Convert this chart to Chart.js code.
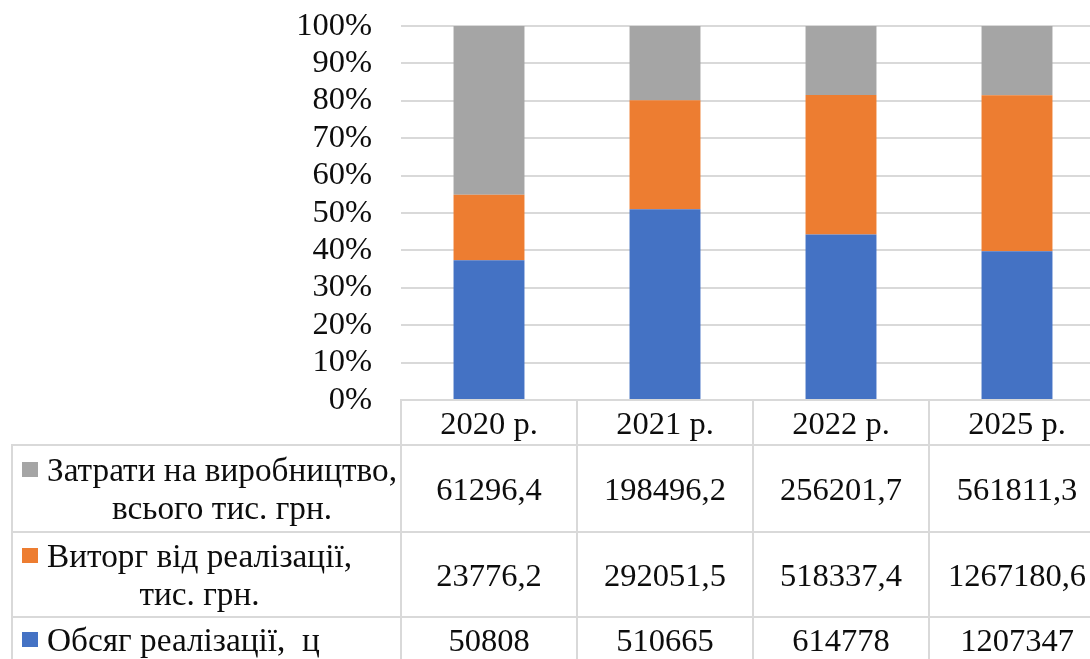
<!DOCTYPE html>
<html><head><meta charset="utf-8">
<script src="https://cdn.jsdelivr.net/npm/chart.js@4.4.1/dist/chart.umd.min.js"></script>
<style>
html,body{margin:0;padding:0;width:1090px;height:659px;overflow:hidden;background:#fff;}
#wrap{position:relative;width:1090px;height:659px;overflow:hidden;}
#c{position:absolute;left:0;top:0;}
#tbl{position:absolute;left:0;top:0;width:1090px;height:659px;font-family:'Liberation Serif','Times New Roman',serif;font-size:32.5px;color:#0d0d0d;pointer-events:none;}
.ln{position:absolute;background:#d9d9d9;}
.cell{position:absolute;display:flex;align-items:center;justify-content:center;white-space:nowrap;line-height:38px;}
.lab{position:absolute;display:flex;align-items:center;justify-content:flex-start;white-space:nowrap;line-height:38px;font-size:33.3px;}
.sq{display:inline-block;width:16px;height:15px;margin-top:11px;margin-right:9px;flex:none;}
.lt{text-align:center;}
</style></head>
<body><div id="wrap"><canvas id="c" width="1105" height="659"></canvas><div id="tbl"></div></div>
<script>
const categories = ['2020 р.', '2021 р.', '2022 р.', '2025 р.'];
const volumeName = ['Обсяг реалізації,\u00a0 ц'];
const revenueName = ['Виторг від реалізації,', 'тис. грн.'];
const costsName = ['Затрати на виробництво,', 'всього тис. грн.'];
const volumeSales = [50808, 510665, 614778, 1207347];
const revenue = [23776.2, 292051.5, 518337.4, 1267180.6];
const costs = [61296.4, 198496.2, 256201.7, 561811.3];
const yTickValues = [0, 10, 20, 30, 40, 50, 60, 70, 80, 90, 100];
const colorVolume = '#4472C4';
const colorRevenue = '#ED7D31';
const colorCosts = '#A5A5A5';

const FONT = "'Liberation Serif','Times New Roman',serif";
const totals = categories.map((c, i) => volumeSales[i] + revenue[i] + costs[i]);
const pct = arr => arr.map((v, i) => v / totals[i] * 100);

const chart = new Chart(document.getElementById('c'), {
  type: 'bar',
  data: {
    labels: categories,
    datasets: [
      { label: volumeName.join(' '), data: pct(volumeSales), backgroundColor: colorVolume },
      { label: revenueName.join(' '), data: pct(revenue), backgroundColor: colorRevenue },
      { label: costsName.join(' '), data: pct(costs), backgroundColor: colorCosts }
    ]
  },
  options: {
    responsive: false,
    animation: false,
    datasets: { bar: { categoryPercentage: 1, barPercentage: 0.403 } },
    layout: { padding: { left: 0, right: 0, top: 26, bottom: 259 } },
    plugins: { legend: { display: false }, tooltip: { enabled: false } },
    scales: {
      x: { display: false, stacked: true },
      y: {
        stacked: true, min: 0, max: 100,
        afterFit(s) { s.width = 401; },
        afterBuildTicks(s) { s.ticks = yTickValues.map(v => ({ value: v })); },
        ticks: { autoSkip: false, callback: v => v + '%', font: { family: FONT, size: 32.5 }, color: '#0d0d0d', padding: 0 },
        grid: { color: '#d9d9d9', lineWidth: 2, drawTicks: true, tickLength: 29, tickColor: 'rgba(0,0,0,0)' },
        border: { display: false }
      }
    }
  }
});

// data table built from the chart's own scale
(function buildTable() {
  const tbl = document.getElementById('tbl');
  const ca = chart.chartArea;
  const xs = chart.scales.x;
  const colW = (ca.right - ca.left) / categories.length;
  const centers = categories.map((c, i) => xs.getPixelForValue(i));
  const leftX = 12;
  const fmt = v => String(v).replace('.', ',');
  const rows = [
    { name: costsName, values: costs, color: colorCosts, h: 87 },
    { name: revenueName, values: revenue, color: colorRevenue, h: 85 },
    { name: volumeName, values: volumeSales, color: colorVolume, h: 45 }
  ];
  const headerH = 45;
  function add(cls, x, y, w, h, html) {
    const d = document.createElement('div');
    d.className = cls;
    d.style.left = x + 'px'; d.style.top = y + 'px';
    d.style.width = w + 'px'; d.style.height = h + 'px';
    if (html !== undefined) d.innerHTML = html;
    tbl.appendChild(d);
    return d;
  }
  const top = ca.bottom;
  categories.forEach((c, i) => add('cell', centers[i] - colW / 2, top, colW, headerH, c));
  let y = top + headerH;
  const hLines = [y];
  rows.forEach(r => {
    const lab = add('lab', leftX + 10, y, ca.left - leftX - 10, r.h);
    const inner = document.createElement('div');
    inner.style.display = 'flex';
    inner.style.alignItems = 'flex-start';
    const sq = document.createElement('span');
    sq.className = 'sq'; sq.style.background = r.color;
    const t = document.createElement('div');
    t.className = 'lt'; t.innerHTML = r.name.join('<br>');
    inner.appendChild(sq); inner.appendChild(t);
    lab.appendChild(inner);
    r.values.forEach((v, i) => add('cell', centers[i] - colW / 2, y, colW, r.h, fmt(v)));
    y += r.h;
    hLines.push(y);
  });
  hLines.forEach(yy => add('ln', leftX - 1, yy - 1, 1200, 2));
  add('ln', leftX - 1, top + headerH - 1, 2, 400);
  for (let i = 0; i <= categories.length; i++) {
    const x = centers[0] - colW / 2 + i * colW;
    add('ln', x - 1, top - 1, 2, 400);
  }
})();
</script>
</body></html>
